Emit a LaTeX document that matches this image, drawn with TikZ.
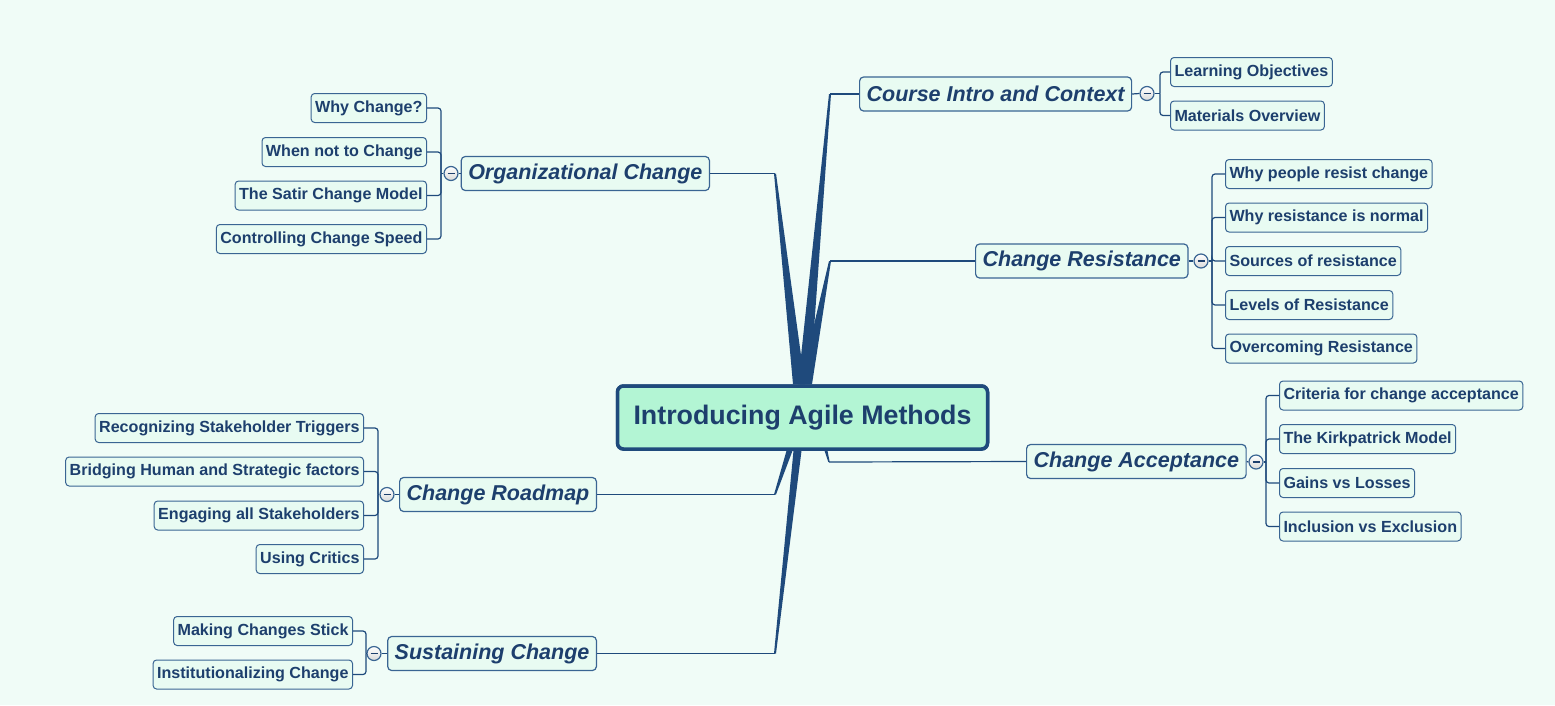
\documentclass[tikz,border=0pt]{standalone}
\usepackage{fontspec}
\setmainfont{Liberation Sans}
\definecolor{navy}{HTML}{1F4A7C}
\definecolor{inkblue}{HTML}{1D3F6D}
\definecolor{edge}{HTML}{3A6593}
\definecolor{rootfill}{HTML}{B3F5D4}
\definecolor{leaffill}{HTML}{E8FBF2}
\definecolor{paper}{HTML}{F0FCF7}
\tikzstyle{root}=[draw=navy, line width=3.5pt, fill=rootfill, rounded corners=6pt, minimum width=370pt, minimum height=63pt, text=inkblue, font=\fontsize{26.8}{30}\selectfont\bfseries]
\tikzstyle{topic}=[draw=edge, line width=1.2pt, fill=leaffill, rounded corners=4pt, minimum height=34pt, inner xsep=7pt, text=inkblue, font=\fontsize{21.5}{24}\selectfont\bfseries\itshape]
\tikzstyle{leaf}=[draw=edge, line width=1pt, fill=leaffill, rounded corners=3.5pt, minimum height=29pt, inner xsep=4pt, text=inkblue, font=\fontsize{16.1}{19}\selectfont\bfseries]
\tikzstyle{fold}=[circle, draw=edge, line width=1.2pt, top color=white, bottom color=black!15, minimum size=14pt, inner sep=0pt, text=inkblue]
\tikzstyle{branch}=[draw=navy, line width=1.2pt, rounded corners=3pt]

\begin{document}
\begin{tikzpicture}[x=1pt, y=-1pt]
% Canvas
    \fill[paper] (0,0) rectangle (1555,705);
    \useasboundingbox (0,0) rectangle (1555,705);
% Central topic
    \node[root] (root) at (802.5,417.5) {Introducing Agile Methods};
% Main topics
    \node[topic, anchor=west] (course) at (859,94) {Course Intro and Context};
    \node[topic, anchor=east] (orgch) at (710,173.5) {Organizational Change};
    \node[topic, anchor=west] (resist) at (975,261) {Change Resistance};
    \node[topic, anchor=west] (accept) at (1026,461.5) {Change Acceptance};
    \node[topic, anchor=east] (roadmap) at (597,494.5) {Change Roadmap};
    \node[topic, anchor=east] (sustain) at (597,653.5) {Sustaining Change};
% Fold markers
    \node[fold] (fCourse) at (1147,93.5) {\rule{7pt}{1.6pt}};
    \node[fold] (fOrgch) at (451,173.5) {\rule{7pt}{1.6pt}};
    \node[fold] (fResist) at (1201,261) {\rule{7pt}{1.6pt}};
    \node[fold] (fAccept) at (1256,462) {\rule{7pt}{1.6pt}};
    \node[fold] (fRoadmap) at (387,494.5) {\rule{7pt}{1.6pt}};
    \node[fold] (fSustain) at (374,653.5) {\rule{7pt}{1.6pt}};
% Subtopics, right side
    \node[leaf, anchor=west] (objectives) at (1170,72) {Learning Objectives};
    \node[leaf, anchor=west] (materials) at (1170,115.5) {Materials Overview};
    \node[leaf, anchor=west] (whyresist) at (1225,174) {Why people resist change};
    \node[leaf, anchor=west] (normal) at (1225,217.5) {Why resistance is normal};
    \node[leaf, anchor=west] (sources) at (1225,261) {Sources of resistance};
    \node[leaf, anchor=west] (levels) at (1225,305) {Levels of Resistance};
    \node[leaf, anchor=west] (overcome) at (1225,348.5) {Overcoming Resistance};
    \node[leaf, anchor=west] (criteria) at (1279,395.5) {Criteria for change acceptance};
    \node[leaf, anchor=west] (kirkpatrick) at (1279,439) {The Kirkpatrick Model};
    \node[leaf, anchor=west] (gains) at (1279,483) {Gains vs Losses};
    \node[leaf, anchor=west] (inclusion) at (1279,526.5) {Inclusion vs Exclusion};
% Subtopics, left side
    \node[leaf, anchor=east] (whych) at (427,108) {Why Change?};
    \node[leaf, anchor=east] (notch) at (427,152) {When not to Change};
    \node[leaf, anchor=east] (satir) at (427,195.5) {The Satir Change Model};
    \node[leaf, anchor=east] (speed) at (427,239) {Controlling Change Speed};
    \node[leaf, anchor=east] (triggers) at (364,428) {Recognizing Stakeholder Triggers};
    \node[leaf, anchor=east] (bridging) at (364,471.5) {Bridging Human and Strategic factors};
    \node[leaf, anchor=east] (engaging) at (364,515.5) {Engaging all Stakeholders};
    \node[leaf, anchor=east] (critics) at (364,559) {Using Critics};
    \node[leaf, anchor=east] (stick) at (353,631) {Making Changes Stick};
    \node[leaf, anchor=east] (institution) at (353,674.5) {Institutionalizing Change};
% Brackets
    \coordinate (bCourse) at (1160,93.5);
    \coordinate (bOrgch) at (441,173.5);
    \coordinate (bResist) at (1212,261);
    \coordinate (bAccept) at (1266,462);
    \coordinate (bRoadmap) at (378,494.5);
    \coordinate (bSustain) at (366,653.5);
    \draw[branch] (course.east) -- (fCourse.west);
    \draw[branch] (fCourse.east) -- (bCourse);
    \foreach \n in {objectives,materials}
        \draw[branch] (bCourse) |- (\n.west);
    \draw[branch] (orgch.west) -- (fOrgch.east);
    \draw[branch] (fOrgch.west) -- (bOrgch);
    \foreach \n in {whych,notch,satir,speed}
        \draw[branch] (bOrgch) |- (\n.east);
    \draw[branch] (resist.east) -- (fResist.west);
    \draw[branch] (fResist.east) -- (bResist);
    \foreach \n in {whyresist,normal,sources,levels,overcome}
        \draw[branch] (bResist) |- (\n.west);
    \draw[branch] (accept.east) -- (fAccept.west);
    \draw[branch] (fAccept.east) -- (bAccept);
    \foreach \n in {criteria,kirkpatrick,gains,inclusion}
        \draw[branch] (bAccept) |- (\n.west);
    \draw[branch] (roadmap.west) -- (fRoadmap.east);
    \draw[branch] (fRoadmap.west) -- (bRoadmap);
    \foreach \n in {triggers,bridging,engaging,critics}
        \draw[branch] (bRoadmap) |- (\n.east);
    \draw[branch] (sustain.west) -- (fSustain.east);
    \draw[branch] (fSustain.west) -- (bSustain);
    \foreach \n in {stick,institution}
        \draw[branch] (bSustain) |- (\n.east);
% Trunks
    \coordinate (kCourse) at (830,94);
    \coordinate (kOrgch) at (775,173.5);
    \coordinate (kResist) at (830,261);
    \coordinate (kAccept) at (829,462);
    \coordinate (kRoadmap) at (775,494.5);
    \coordinate (kSustain) at (775,653.5);
    \draw[branch, rounded corners=0pt] (course.west) -- (kCourse);
    \draw[branch, rounded corners=0pt] (orgch.east) -- (kOrgch);
    \draw[branch, rounded corners=0pt] (resist.west) -- (kResist);
    \draw[branch, rounded corners=0pt] (accept.west) -- (kAccept);
    \draw[branch, rounded corners=0pt] (roadmap.east) -- (kRoadmap);
    \draw[branch, rounded corners=0pt] (sustain.east) -- (kSustain);
    \fill[navy] ([xshift=-1pt]kCourse) -- ([xshift=-4.5pt]root.north) -- ([xshift=7.5pt]root.north) -- ([xshift=1pt]kCourse) -- cycle;
    \fill[navy] ([xshift=-1pt]kOrgch) -- ([xshift=-9.5pt]root.north) -- ([xshift=2.5pt]root.north) -- ([xshift=1pt]kOrgch) -- cycle;
    \fill[navy] ([xshift=-1pt]kResist) -- ([xshift=-2.5pt]root.north) -- ([xshift=9.5pt]root.north) -- ([xshift=1pt]kResist) -- cycle;
    \fill[navy] ([xshift=-0.7pt]kAccept) -- ([xshift=22pt]root.south) -- ([xshift=25pt]root.south) -- ([xshift=0.7pt]kAccept) -- cycle;
    \fill[navy] ([xshift=-1pt]kRoadmap) -- ([xshift=-16pt]root.south) -- ([xshift=-10pt]root.south) -- ([xshift=1pt]kRoadmap) -- cycle;
    \fill[navy] ([xshift=-1pt]kSustain) -- ([xshift=-9pt]root.south) -- ([xshift=-1pt]root.south) -- ([xshift=1pt]kSustain) -- cycle;
% Central topic on top
    \node[root] at (root) {Introducing Agile Methods};
\end{tikzpicture}
\end{document}
